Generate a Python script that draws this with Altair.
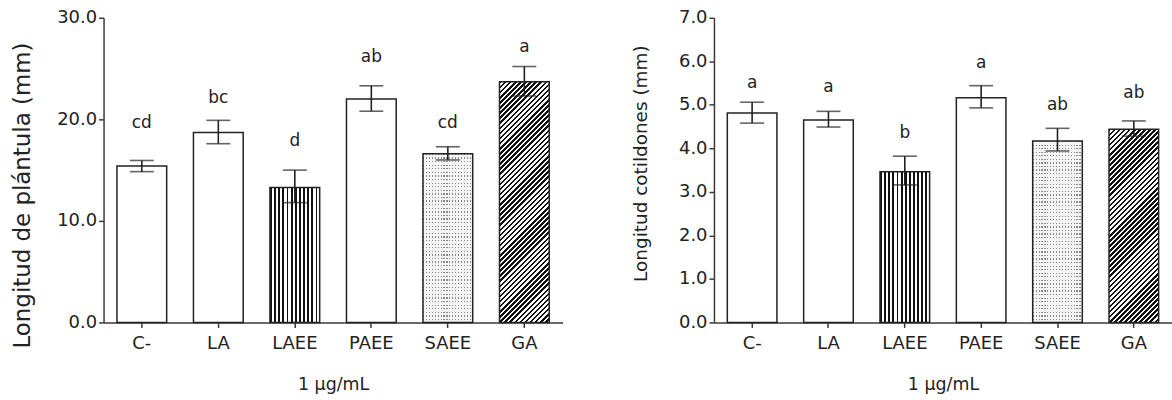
import altair as alt
import pandas as pd

categories = ["C-", "LA", "LAEE", "PAEE", "SAEE", "GA"]
patterns = ["none", "none", "vertical", "none", "dots", "diagonal"]

plantula_mean = [15.4, 18.7, 13.3, 22.0, 16.6, 23.7]
plantula_lo = [14.85, 17.6, 11.8, 20.8, 16.0, 22.3]
plantula_hi = [15.95, 19.9, 15.0, 23.3, 17.3, 25.2]
plantula_letters = ["cd", "bc", "d", "ab", "cd", "a"]
plantula_letter_y = [19.6, 22.1, 17.9, 26.1, 19.6, 27.1]

cotiledon_mean = [4.81, 4.65, 3.46, 5.16, 4.17, 4.44]
cotiledon_lo = [4.58, 4.49, 3.16, 4.93, 3.94, 4.28]
cotiledon_hi = [5.06, 4.85, 3.82, 5.44, 4.46, 4.63]
cotiledon_letters = ["a", "a", "b", "a", "ab", "ab"]
cotiledon_letter_y = [5.51, 5.40, 4.35, 5.95, 4.99, 5.26]

FONT = "DejaVu Sans"
INK = "#222222"
PLOT_H = 306


def stripe_stops(n, frac, c1, c2):
    stops = []
    for i in range(n):
        a = round(i / n, 5)
        b = round((i + frac) / n, 5)
        e = round((i + 1) / n, 5)
        stops += [
            {"offset": a, "color": c1},
            {"offset": b, "color": c1},
            {"offset": b, "color": c2},
            {"offset": e, "color": c2},
        ]
    return stops


def panel(means, lo, hi, letters, letter_y, ymax, ticks, title, width,
          title_y, title_size, title_pad):
    df = pd.DataFrame({
        "cat": categories,
        "mean": means,
        "lo": lo,
        "hi": hi,
        "letter": letters,
        "ly": letter_y,
        "pattern": patterns,
    })
    xenc = alt.X(
        "cat:N",
        scale=alt.Scale(domain=categories, paddingInner=0.35, paddingOuter=0.175),
        axis=alt.Axis(title="1 μg/mL", labelAngle=0, labelPadding=7,
                      titlePadding=23, titleFontSize=17.5, titleFontWeight="normal"),
    )
    yaxis = alt.Axis(values=ticks, format=".1f", title=title, titleFontSize=title_size,
                     titleFontWeight="normal", titlePadding=title_pad, titleY=title_y)
    yscale = alt.Scale(domain=[0, ymax], nice=False, zero=True)
    yenc = alt.Y("mean:Q", scale=yscale, axis=yaxis)

    base = alt.Chart(df)
    bar_w = width / 6 * 0.65

    layers = [base.mark_bar(fill="white", strokeWidth=0).encode(x=xenc, y=yenc)]

    # vertical stripes
    vert = {"gradient": "linear", "x1": 0, "y1": 0, "x2": 1, "y2": 0,
            "stops": stripe_stops(12, 0.45, "#111111", "#ffffff")}
    layers.append(base.transform_filter(alt.datum.pattern == "vertical")
                  .mark_bar(fill=vert, strokeWidth=0).encode(x=xenc, y=yenc))

    # dotted
    i_dot = patterns.index("dots")
    h_dot = means[i_dot] / ymax * PLOT_H
    dcols = {"gradient": "linear", "x1": 0, "y1": 0, "x2": 1, "y2": 0,
             "stops": stripe_stops(int(round(bar_w / 3)), 0.4, "#8a8a8a", "#f4f4f4")}
    drows = {"gradient": "linear", "x1": 0, "y1": 0, "x2": 0, "y2": 1,
             "stops": stripe_stops(int(round(h_dot / 3.6)), 0.35,
                                   "rgba(244,244,244,0)", "#f4f4f4")}
    layers.append(base.transform_filter(alt.datum.pattern == "dots")
                  .mark_bar(fill=dcols, strokeWidth=0).encode(x=xenc, y=yenc))
    layers.append(base.transform_filter(alt.datum.pattern == "dots")
                  .mark_bar(fill=drows, strokeWidth=0).encode(x=xenc, y=yenc))

    # diagonal hatch (45 degrees in pixel space)
    i_d = patterns.index("diagonal")
    w = bar_w
    h = means[i_d] / ymax * PLOT_H
    k = (w + h) / (w * w + h * h)
    n_diag = int(round((w + h) / 1.4142 / 3.6))
    diag = {"gradient": "linear", "x1": 0, "y1": 0,
            "x2": round(w * k, 6), "y2": round(h * k, 6),
            "stops": stripe_stops(n_diag, 0.5, "#111111", "#ffffff")}
    layers.append(base.transform_filter(alt.datum.pattern == "diagonal")
                  .mark_bar(fill=diag, strokeWidth=0).encode(x=xenc, y=yenc))

    # outlines
    layers.append(base.mark_bar(fill="white", fillOpacity=0, stroke=INK,
                                strokeWidth=1.5).encode(x=xenc, y=yenc))

    # error bars
    layers.append(base.mark_rule(color=INK, strokeWidth=1.6).encode(
        x=xenc, y=alt.Y("lo:Q", scale=yscale, axis=yaxis), y2="hi:Q"))
    layers.append(base.mark_tick(color=INK, thickness=1.6, size=24).encode(
        x=xenc, y=alt.Y("lo:Q", scale=yscale, axis=yaxis)))
    layers.append(base.mark_tick(color=INK, thickness=1.6, size=24).encode(
        x=xenc, y=alt.Y("hi:Q", scale=yscale, axis=yaxis)))

    # significance letters
    layers.append(base.mark_text(font=FONT, fontSize=17, color=INK,
                                 baseline="middle", align="center").encode(
        x=xenc, y=alt.Y("ly:Q", scale=yscale, axis=yaxis), text="letter:N"))

    return alt.layer(*layers).properties(width=width, height=PLOT_H)


left = panel(plantula_mean, plantula_lo, plantula_hi, plantula_letters,
             plantula_letter_y, 30, [0, 10, 20, 30], "Longitud de plántula (mm)",
             461, 178, 23, 22)
right = panel(cotiledon_mean, cotiledon_lo, cotiledon_hi, cotiledon_letters,
              cotiledon_letter_y, 7, [0, 1, 2, 3, 4, 5, 6, 7], "Longitud cotildones (mm)",
              460, 146, 18.5, 28)

chart = alt.hconcat(left, right, spacing=69).properties(
    padding={"left": 11, "top": 8, "right": 0, "bottom": 0}
).configure_view(strokeOpacity=0).configure_axis(
    labelFont=FONT, titleFont=FONT, labelFontSize=18, labelColor=INK,
    titleColor=INK, domainColor="#3a3a3a", domainWidth=1.5, tickColor="#3a3a3a",
    tickWidth=1.5, tickSize=5, grid=False, labelPadding=2
)

chart.save("out.html", embed_options={"renderer": "svg", "actions": False})
